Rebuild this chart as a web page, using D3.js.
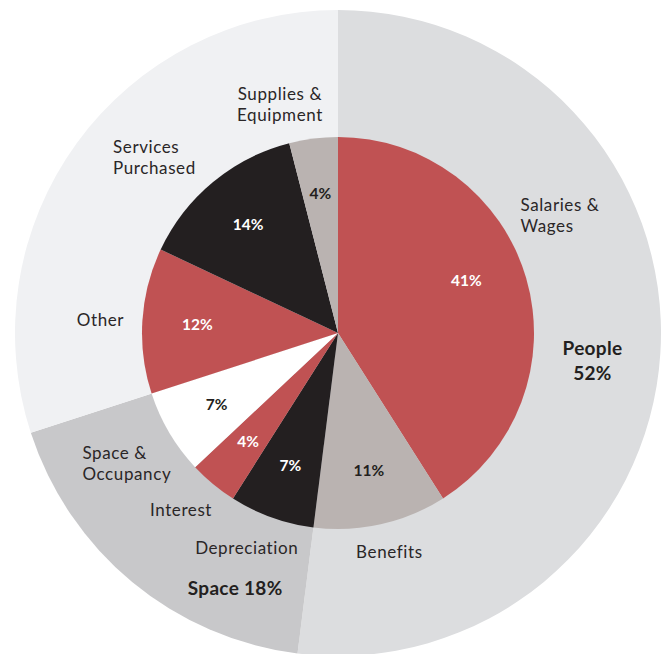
<!DOCTYPE html>
<html>
<head>
<meta charset="utf-8">
<script src="https://cdn.jsdelivr.net/npm/d3@7"></script>
<style>
  body { margin: 0; background: #ffffff; }
  svg { display: block; }
</style>
</head>
<body>
<div id="chart"></div>
<script>
// outer ring: groups
const groups = ['People', 'Space', 'Other']
const groupValues = [52, 18, 30]
const groupLabels = [['People', '52%'], ['Space 18%'], []]

// inner pie: expense categories (clockwise from 12 o'clock)
const categories = ['Salaries & Wages', 'Benefits', 'Depreciation', 'Interest',
  'Space & Occupancy', 'Other', 'Services Purchased', 'Supplies & Equipment']
const categoryValues = [41, 11, 7, 4, 7, 12, 14, 4]
const categoryLines = [['Salaries &', 'Wages'], ['Benefits'], ['Depreciation'], ['Interest'],
  ['Space &', 'Occupancy'], ['Other'], ['Services', 'Purchased'], ['Supplies &', 'Equipment']]

const width = 664
const height = 654
const cx = 338
const cy = 333
const outerR = 323
const innerR = 196

const groupColor = d3.scaleOrdinal().domain(groups).range(['#dcdddf', '#c8c8ca', '#f0f1f3'])
const catColor = d3.scaleOrdinal().domain(categories)
  .range(['#c05253', '#bab3b1', '#231f20', '#c05253', '#ffffff', '#c05253', '#231f20', '#bab3b1'])
const pctColor = d3.scaleOrdinal().domain(categories)
  .range(['#ffffff', '#231f20', '#ffffff', '#ffffff', '#231f20', '#ffffff', '#ffffff', '#231f20'])

// label tweaks relative to the slice's mid-angle point
const catLabelLayout = {
  'Salaries & Wages': { anchor: 'start', dx: -48, dy: -51 },
  'Benefits': { anchor: 'middle', dx: -1, dy: -15 },
  'Depreciation': { anchor: 'middle', dx: -10, dy: -11 },
  'Interest': { anchor: 'middle', dx: -4, dy: -8 },
  'Space & Occupancy': { anchor: 'start', dx: -49, dy: 8 },
  'Other': { anchor: 'middle', dx: 2, dy: 2 },
  'Services Purchased': { anchor: 'start', dx: -72, dy: 9 },
  'Supplies & Equipment': { anchor: 'middle', dx: -28, dy: 9 }
}
const pctNudge = { 'Salaries & Wages': [-7, -13] }
const groupLabelLayout = {
  'People': { r: 255, dx: 0, dy: 12 },
  'Space': { r: 290, dx: 82, dy: 32 }
}

const svg = d3.select('#chart').append('svg')
  .attr('width', width)
  .attr('height', height)
  .style('font-family', 'Lato, "Open Sans", sans-serif')

const g = svg.append('g').attr('transform', `translate(${cx},${cy})`)

const pie = d3.pie().sort(null).value(d => d.value)

const outerData = pie(groups.map((name, i) => ({ name, value: groupValues[i], lines: groupLabels[i] })))
const innerData = pie(categories.map((name, i) => ({ name, value: categoryValues[i], lines: categoryLines[i] })))

const outerArc = d3.arc().innerRadius(0).outerRadius(outerR)
const innerArc = d3.arc().innerRadius(0).outerRadius(innerR)

g.selectAll('path.group').data(outerData).enter()
  .append('path')
  .classed('group', true)
  .attr('d', outerArc)
  .attr('fill', d => groupColor(d.data.name))

g.selectAll('path.cat').data(innerData).enter()
  .append('path')
  .classed('cat', true)
  .attr('d', innerArc)
  .attr('fill', d => catColor(d.data.name))

const midAngle = d => (d.startAngle + d.endAngle) / 2
const polar = (a, r) => [r * Math.sin(a), -r * Math.cos(a)]

// percentages inside slices
g.selectAll('text.pct').data(innerData).enter()
  .append('text')
  .classed('pct', true)
  .attr('transform', d => {
    const p = polar(midAngle(d), 141)
    const n = pctNudge[d.data.name] || [0, 0]
    return `translate(${p[0] + n[0]},${p[1] + n[1]})`
  })
  .attr('text-anchor', 'middle')
  .attr('dy', '0.36em')
  .style('font-size', '15.5px')
  .style('font-weight', 700)
  .style('fill', d => pctColor(d.data.name))
  .text(d => d.data.value + '%')

const lineH = 21

// category names in the outer ring
const catLabels = g.selectAll('text.cat-label').data(innerData).enter()
  .append('text')
  .classed('cat-label', true)
  .attr('text-anchor', d => catLabelLayout[d.data.name].anchor)
  .style('font-size', '17px')
  .style('fill', '#2a2627')
  .style('letter-spacing', '0.6px')

catLabels.each(function (d) {
  const lay = catLabelLayout[d.data.name]
  const p = polar(midAngle(d), 240)
  const x = p[0] + lay.dx
  const y0 = p[1] + lay.dy - (d.data.lines.length - 1) * lineH / 2
  d3.select(this).selectAll('tspan').data(d.data.lines).enter()
    .append('tspan')
    .attr('x', x)
    .attr('y', (t, i) => y0 + i * lineH)
    .attr('dy', '0.36em')
    .text(t => t)
})

// group totals
const grpLabels = g.selectAll('text.grp-label').data(outerData.filter(d => groupLabelLayout[d.data.name])).enter()
  .append('text')
  .classed('grp-label', true)
  .attr('text-anchor', 'middle')
  .style('font-size', '19px')
  .style('font-weight', 700)
  .style('letter-spacing', '0.3px')
  .style('fill', '#231f20')

grpLabels.each(function (d) {
  const lay = groupLabelLayout[d.data.name]
  const p = polar(midAngle(d), lay.r)
  const x = p[0] + lay.dx
  const y0 = p[1] + lay.dy - (d.data.lines.length - 1) * 25 / 2
  d3.select(this).selectAll('tspan').data(d.data.lines).enter()
    .append('tspan')
    .attr('x', x)
    .attr('y', (t, i) => y0 + i * 25)
    .attr('dy', '0.36em')
    .text(t => t)
})
</script>
</body>
</html>
